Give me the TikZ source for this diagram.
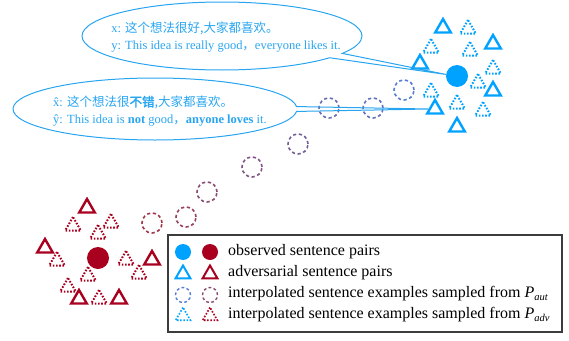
\documentclass[tikz,border=0pt]{standalone}
\usepackage{fontspec}
\setmainfont{Liberation Serif}
\newfontfamily\cjk[AutoFakeBold=2]{Noto Sans CJK SC}
\usetikzlibrary{shapes.geometric,shapes.callouts}
\definecolor{tblue}{RGB}{40,165,240}
\definecolor{bblue}{RGB}{0,162,255}
\definecolor{dred}{RGB}{168,0,30}
\definecolor{cA}{RGB}{160,55,75}
\definecolor{cB}{RGB}{85,125,210}
\definecolor{lgray}{RGB}{60,60,60}
\tikzset{
 tri/.style={regular polygon, regular polygon sides=3, draw, line width=2.4pt, minimum size=18pt, inner sep=0pt},
 dtri/.style={regular polygon, regular polygon sides=3, draw, line width=2pt, dash pattern=on 1.6pt off 1.6pt, minimum size=18pt, inner sep=0pt},
 dcirc/.style={circle, draw, line width=1.6pt, dash pattern=on 3.2pt off 2.6pt, minimum size=20pt, inner sep=0pt},
 bigdot/.style={circle, fill, minimum size=22pt, inner sep=0pt},
 callbox/.style={ellipse callout, draw=tblue, line width=1pt, callout pointer arc=9, inner sep=0pt},
 ctext/.style={text=tblue, align=left, inner sep=0pt, font=\fontsize{12.5}{17}\selectfont},
 legtext/.style={anchor=west, inner sep=0pt, font=\fontsize{16}{18}\selectfont},
}
\begin{document}
\begin{tikzpicture}[x=1pt,y=-1pt]
\useasboundingbox (0,0) rectangle (569,340);
% blue cluster
\foreach \p [count=\i] in {(443,28),(493,44),(420,64),(493,91),(435,109),(457,127)}
  \node[tri, draw=bblue] (bt\i) at \p {};
\foreach \p [count=\i] in {(468,29),(431,48),(470,51),(493,69),(478,83),(431,92),(457,104),(483,111)}
  \node[dtri, draw=bblue] (bd\i) at \p {};
\node[bigdot, fill=bblue] (bdot) at (457,76) {};
% red cluster
\foreach \p [count=\i] in {(87,208),(45,248),(152,260),(79,299),(119,299)}
  \node[tri, draw=dred] (rt\i) at \p {};
\foreach \p [count=\i] in {(73,226),(111,223),(98,234),(57,261),(126,260),(88,276),(139,274),(68,287),(99,299)}
  \node[dtri, draw=dred] (rd\i) at \p {};
\node[bigdot, fill=dred] (rdot) at (98,258) {};
% interpolation circles
\foreach \p/\k [count=\i] in {(152,223)/0,(186,217)/14,(207,192)/28,(252,167)/43,(298,144)/57,(329,108)/75,(373,108)/85,(404,90)/100}
  \node[dcirc, draw=cB!\k!cA] (ic\i) at \p {};
% callouts
\node[callbox, minimum width=280pt, minimum height=68pt, callout absolute pointer=(bdot.172)] (c1) at (222,36) {};
\node[ctext] (t1) at (226,37) {x: {\cjk 这个想法很好,大家都喜欢。}\\y: This idea is really good{\cjk ，}everyone likes it.};
\node[callbox, minimum width=284pt, minimum height=62pt, callout absolute pointer=(bt5.west)] (c2) at (155,109) {};
\node[ctext] (t2) at (160,111) {\^{x}: {\cjk 这个想法很\textbf{不错},大家都喜欢。}\\\^{y}: This idea is \textbf{not} good{\cjk ，}\textbf{anyone loves} it.};
% legend
\node[draw=lgray, line width=1.1pt, minimum width=394pt, minimum height=97pt, inner sep=0pt] (leg) at (365,283.5) {};
\node[circle, fill=bblue, minimum size=16pt, inner sep=0pt] (l1a) at (183,252) {};
\node[circle, fill=dred, minimum size=16pt, inner sep=0pt] (l1b) at (210,252) {};
\node[tri, draw=bblue, line width=2pt, minimum size=17pt] (l2a) at (183,274) {};
\node[tri, draw=dred, line width=2pt, minimum size=17pt] (l2b) at (210,274) {};
\node[dcirc, draw=cB, line width=1.4pt, minimum size=15pt, dash pattern=on 2.8pt off 2.4pt] (l3a) at (183,295) {};
\node[dcirc, draw=cB!30!cA, line width=1.4pt, minimum size=15pt, dash pattern=on 2.8pt off 2.4pt] (l3b) at (210,295) {};
\node[dtri, draw=bblue, line width=1.6pt, minimum size=17pt] (l4a) at (183,316) {};
\node[dtri, draw=dred, line width=1.6pt, minimum size=17pt] (l4b) at (210,316) {};
\node[legtext] (lt1) at (228,252) {observed sentence pairs};
\node[legtext] (lt2) at (228,273) {adversarial sentence pairs};
\node[legtext] (lt3) at (228,294) {interpolated sentence examples sampled from \textit{P}\raisebox{-0.35ex}{\fontsize{10.5}{11}\selectfont\textit{aut}}};
\node[legtext] (lt4) at (228,315) {interpolated sentence examples sampled from \textit{P}\raisebox{-0.35ex}{\fontsize{10.5}{11}\selectfont\textit{adv}}};
\end{tikzpicture}
\end{document}
